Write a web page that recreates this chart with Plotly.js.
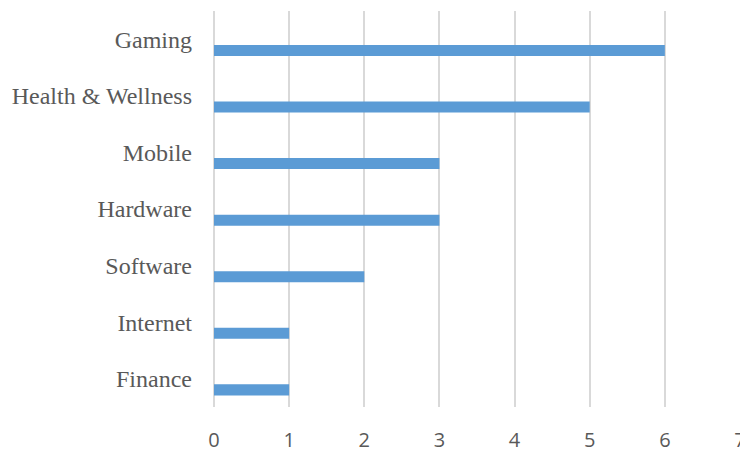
<!DOCTYPE html>
<html>
<head>
<meta charset="utf-8">
<script src="https://cdn.plot.ly/plotly-3.0.1.min.js"></script>
<style>html,body{margin:0;padding:0;background:#fff;}#chart{width:740px;height:450px;}</style>
</head>
<body>
<div id="chart"></div>
<script>
const categories = ["Finance", "Internet", "Software", "Hardware", "Mobile", "Health & Wellness", "Gaming"];
const values = [1, 1, 2, 3, 3, 5, 6];
const xTicks = [0, 1, 2, 3, 4, 5, 6, 7];

const trace = {
  type: "bar",
  orientation: "h",
  y: categories,
  x: values,
  width: 0.195,
  offset: -0.295,
  marker: {color: "#5B9BD5", line: {width: 0}},
  hoverinfo: "x+y"
};

const layout = {
  width: 740,
  height: 450,
  margin: {l: 213.5, r: 0, t: 11, b: 43},
  paper_bgcolor: "#ffffff",
  plot_bgcolor: "#ffffff",
  showlegend: false,
  xaxis: {
    range: [0, 7],
    tickvals: xTicks,
    ticktext: xTicks.map(String),
    showgrid: true,
    gridcolor: "#D9D9D9",
    gridwidth: 2,
    zeroline: true,
    zerolinecolor: "#D9D9D9",
    zerolinewidth: 2,
    showline: false,
    ticks: "",
    ticklabelstandoff: 19,
    ticklabeloverflow: "allow",
    tickfont: {family: "Open Sans, sans-serif", size: 20, color: "#595959"},
    fixedrange: true
  },
  yaxis: {
    type: "category",
    categoryorder: "array",
    categoryarray: categories,
    range: [-0.5, 6.5],
    showgrid: false,
    zeroline: false,
    showline: false,
    ticks: "",
    ticklabelstandoff: 21,
    tickfont: {family: "Liberation Serif, serif", size: 24, color: "#595959"},
    fixedrange: true
  }
};

Plotly.newPlot("chart", [trace], layout, {displayModeBar: false, staticPlot: true});
</script>
</body>
</html>
